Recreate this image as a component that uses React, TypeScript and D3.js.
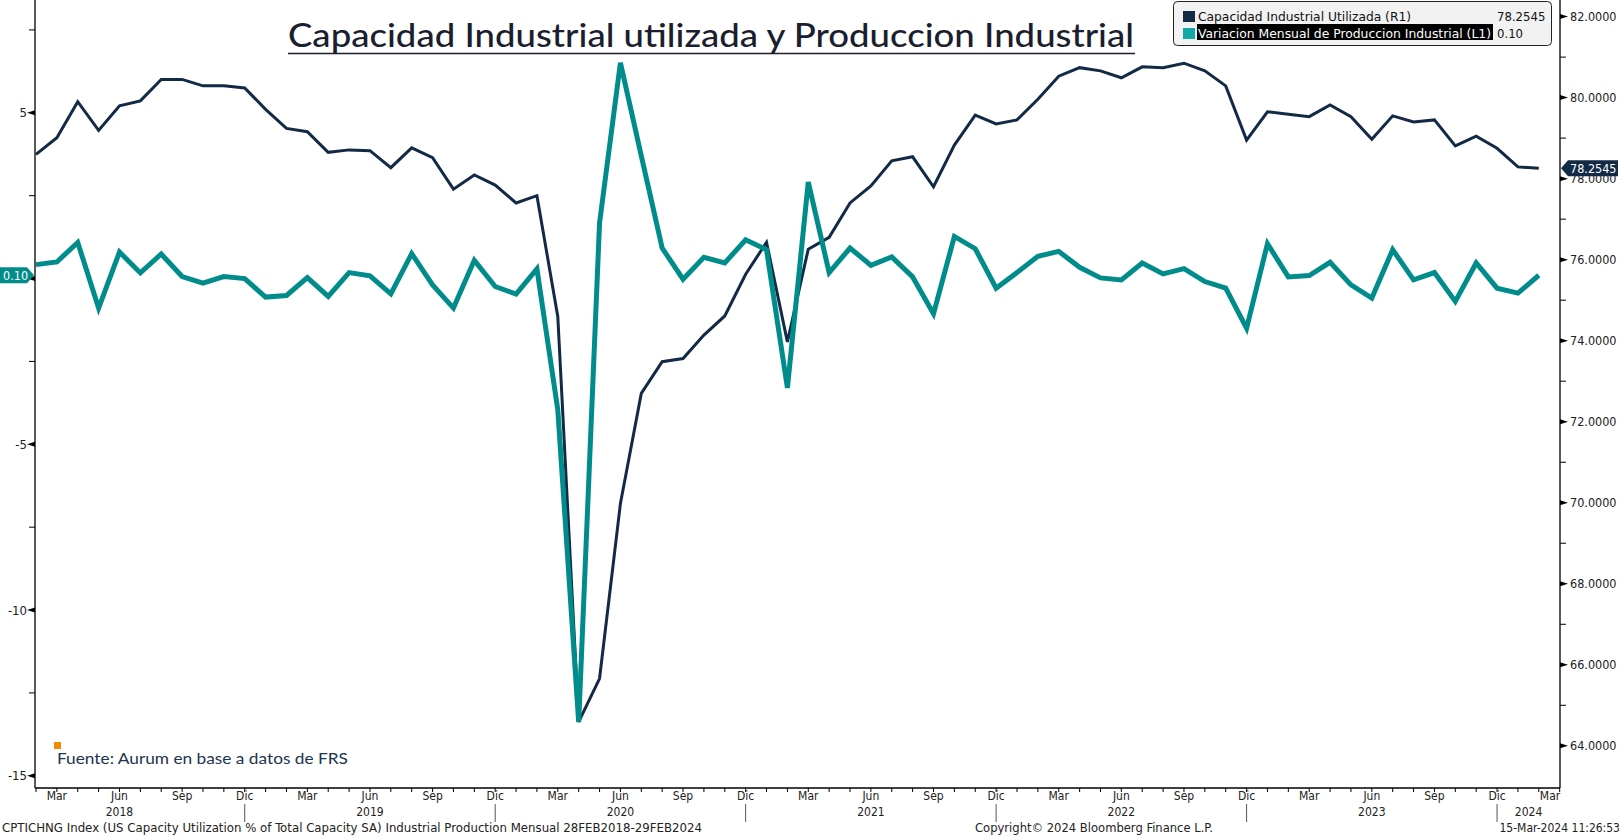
import React from "react";
import * as d3 from "d3";

// Monthly series, Feb 2018 .. Feb 2024
const startYear = 2018;
const startMonth = 1; // 0 = Jan, so Feb
const capacity = [
  78.6, 79.01, 79.9, 79.19, 79.8, 79.92, 80.45, 80.45, 80.29, 80.29,
  80.24, 79.71, 79.24, 79.16, 78.65, 78.71, 78.69, 78.27, 78.76, 78.52,
  77.74, 78.09, 77.84, 77.4, 77.58, 74.59, 64.59, 65.66, 69.98, 72.7,
  73.48, 73.56, 74.14, 74.61, 75.64, 76.43, 73.97, 76.26, 76.55, 77.4,
  77.82, 78.44, 78.54, 77.8, 78.83, 79.57, 79.35, 79.45, 79.96, 80.53,
  80.74, 80.66, 80.49, 80.76, 80.74, 80.85, 80.66, 80.29, 78.95, 79.65,
  79.59, 79.53, 79.82, 79.53, 78.97, 79.55, 79.4, 79.45, 78.81, 79.05,
  78.75, 78.29, 78.2545,
];
const ipMoM = [
  0.42, 0.5, 1.09, -0.89, 0.8, 0.17, 0.74, 0.06, -0.14, 0.06,
  0.0, -0.56, -0.51, 0.03, -0.54, 0.18, 0.08, -0.46, 0.75, -0.19,
  -0.89, 0.55, -0.24, -0.47, 0.29, -3.96, -13.38, 1.68, 6.51, 3.7,
  0.92, -0.02, 0.64, 0.47, 1.17, 0.87, -3.3, 2.91, 0.18, 0.92,
  0.4, 0.65, 0.05, -1.06, 1.27, 0.9, -0.29, 0.18, 0.67, 0.82,
  0.34, 0.02, -0.04, 0.47, 0.14, 0.3, -0.09, -0.29, -1.5, 1.05,
  0.05, 0.09, 0.49, -0.19, -0.59, 0.87, -0.04, 0.18, -0.69, 0.47,
  -0.29, -0.44, 0.1,
];
const monthNames = ["Ene", "Feb", "Mar", "Abr", "May", "Jun", "Jul", "Ago", "Sep", "Oct", "Nov", "Dic"];
const labeledMonths = [2, 5, 8, 11];
const leftMajor = [5, 0, -5, -10, -15];
const leftMinor = [7.5, 2.5, -2.5, -7.5, -12.5];
const rightMajor = [64, 66, 68, 70, 72, 74, 76, 78, 80, 82];
const rightMinor = [65, 67, 69, 71, 73, 75, 77, 79, 81];

const title = "Capacidad Industrial utilizada y Produccion Industrial";
const legendCap = "Capacidad Industrial Utilizada (R1)";
const legendIp = "Variacion Mensual de Produccion Industrial (L1)";
const sourceNote = "Fuente: Aurum en base a datos de FRS";
const footerLeft = "CPTICHNG Index (US Capacity Utilization % of Total Capacity SA) Industrial Production  Mensual 28FEB2018-29FEB2024";
const footerMid = "Copyright\u00A9 2024 Bloomberg Finance L.P.";
const footerRight = "15-Mar-2024 11:26:53";

const NAVY = "#132a46";
const TEAL = "#008c8a";
const BB = "'DejaVu Sans Condensed', 'Liberation Sans Narrow', 'DejaVu Sans', sans-serif";
const ROUND = "'Lato', 'Open Sans', sans-serif";

export default function App() {
  const W = 1622, H = 838;
  const axL = 35, axR = 1560, axB = 788;
  const n = capacity.length;
  const x = d3.scaleLinear().domain([0, n - 1]).range([36, 1538.8]);
  const yL = d3.scaleLinear().domain([-15, 5]).range([775.8, 112.8]);
  const yR = d3.scaleLinear().domain([64, 82]).range([745.8, 16.6]);

  const lineCap = d3.line<number>().x((_, i) => x(i)).y((d) => yR(d));
  const lineIp = d3.line<number>().x((_, i) => x(i)).y((d) => yL(d));

  const months = d3.range(-1, n + 1).map((i) => {
    const m = ((startMonth + i) % 12 + 12) % 12;
    const yr = startYear + Math.floor((startMonth + i) / 12);
    return { i, m, yr };
  });

  const years = d3.range(startYear, startYear + 7);
  const yearPos = (yr: number) => {
    const iJun = (yr - startYear) * 12 + 5 - startMonth;
    if (iJun <= n) return x(iJun);
    const iDecPrev = (yr - 1 - startYear) * 12 + 11 - startMonth;
    return (x(iDecPrev) + axR) / 2;
  };

  const lastCap = capacity[n - 1];
  const lastIp = ipMoM[n - 1];
  const capTagY = yR(lastCap);
  const ipTagY = yL(lastIp);

  return (
    <div>
      <style>{`body{margin:0;background:#fff}`}</style>
      <svg width={W} height={H} style={{ display: "block", background: "#fff" }}>
        {/* Title */}
        <text x={711} y={47} textAnchor="middle" fontFamily={ROUND} fontSize={33} fontWeight={500}
          fill="#1b1e2e" textLength={846} lengthAdjust="spacingAndGlyphs">{title}</text>
        <line x1={288} x2={1135} y1={53.5} y2={53.5} stroke="#1b1e2e" strokeWidth={1.6} />

        {/* Axes lines */}
        <line x1={axL} x2={axL} y1={0} y2={axB} stroke="#000" strokeWidth={1.3} />
        <line x1={axR} x2={axR} y1={0} y2={axB} stroke="#000" strokeWidth={1.3} />
        <line x1={axL} x2={axR} y1={axB} y2={axB} stroke="#000" strokeWidth={1.3} />

        {/* Left axis ticks */}
        {leftMajor.map((v) => (
          <g key={"lm" + v}>
            <path d={`M${axL},${yL(v) - 2.5} L${axL},${yL(v) + 2.5} L${axL - 8},${yL(v)} Z`} fill="#000" />
            {v !== 0 && (
              <text x={27} y={yL(v) + 4.5} textAnchor="end" fontFamily={BB} fontSize={13} fill="#222">
                {v < 0 ? "-" + Math.abs(v) : String(v)}
              </text>
            )}
          </g>
        ))}
        {leftMinor.map((v) => (
          <line key={"ln" + v} x1={axL - 6} x2={axL} y1={yL(v)} y2={yL(v)} stroke="#000" strokeWidth={1} />
        ))}

        {/* Right axis ticks */}
        {rightMajor.map((v) => (
          <g key={"rm" + v}>
            <path d={`M${axR},${yR(v) - 2.5} L${axR},${yR(v) + 2.5} L${axR + 8},${yR(v)} Z`} fill="#000" />
            <text x={1570} y={yR(v) + 4.5} fontFamily={BB} fontSize={12.5} fill="#222">
              {d3.format(".4f")(v)}
            </text>
          </g>
        ))}
        {rightMinor.map((v) => (
          <line key={"rn" + v} x1={axR} x2={axR + 6} y1={yR(v)} y2={yR(v)} stroke="#000" strokeWidth={1} />
        ))}

        {/* Bottom axis */}
        {months.filter((d) => x(d.i) >= axL - 0.5 && x(d.i) <= axR + 0.5).map((d) => (
          <line key={"bt" + d.i} x1={x(d.i)} x2={x(d.i)} y1={axB} y2={axB + 4} stroke="#000" strokeWidth={1} />
        ))}
        {months.filter((d) => labeledMonths.includes(d.m) && x(d.i) > axL + 5 && x(d.i) <= axR + 1).map((d) => {
          const cx = Math.min(x(d.i), axR - 10);
          return (
            <text key={"bl" + d.i} x={cx} y={800} textAnchor="middle" fontFamily={BB} fontSize={12} fill="#222">
              {monthNames[d.m]}
            </text>
          );
        })}
        {months.filter((d) => d.m === 11 && x(d.i) > axL && x(d.i) < axR).map((d) => (
          <line key={"ys" + d.i} x1={x(d.i)} x2={x(d.i)} y1={804} y2={822} stroke="#555" strokeWidth={1} />
        ))}
        {years.map((yr) => (
          <text key={"yr" + yr} x={yearPos(yr)} y={816} textAnchor="middle" fontFamily={BB} fontSize={12} fill="#222">
            {yr}
          </text>
        ))}

        {/* Series */}
        <path d={lineCap(capacity) || ""} fill="none" stroke={NAVY} strokeWidth={3} strokeLinejoin="miter" />
        <path d={lineIp(ipMoM) || ""} fill="none" stroke={TEAL} strokeWidth={5} strokeLinejoin="miter" />

        {/* Last-value tags */}
        <path d={`M${axR + 1},${capTagY} L${axR + 8},${capTagY - 8} L${1618},${capTagY - 8} L${1618},${capTagY + 8} L${axR + 8},${capTagY + 8} Z`} fill={NAVY} />
        <text x={1570} y={capTagY + 4.5} fontFamily={BB} fontSize={12.5} fill="#fff">{d3.format(".4f")(lastCap)}</text>
        <path d={`M0,${ipTagY - 8} L${axL - 8},${ipTagY - 8} L${axL - 1},${ipTagY} L${axL - 8},${ipTagY + 8} L0,${ipTagY + 8} Z`} fill={TEAL} />
        <text x={3} y={ipTagY + 4.5} fontFamily={BB} fontSize={12.5} fill="#fff">{d3.format(".2f")(lastIp)}</text>

        {/* Legend */}
        <rect x={1173.5} y={1.5} width={378} height={44} rx={4} fill="#f2f2f2" stroke="#222" strokeWidth={1} />
        <rect x={1183} y={11} width={12} height={11} fill={NAVY} />
        <rect x={1183} y={28} width={12} height={11} fill="#13a9a8" />
        <text x={1198} y={21} fontFamily={BB} fontSize={13} fill="#111" textLength={213} lengthAdjust="spacingAndGlyphs">{legendCap}</text>
        <rect x={1197} y={24} width={296} height={16} fill="#000" />
        <text x={1198} y={37.5} fontFamily={BB} fontSize={13} fill="#fff" textLength={293} lengthAdjust="spacingAndGlyphs">{legendIp}</text>
        <text x={1497} y={21} fontFamily={BB} fontSize={13} fill="#111">{d3.format(".4f")(lastCap)}</text>
        <text x={1497} y={37.5} fontFamily={BB} fontSize={13} fill="#111">{d3.format(".2f")(lastIp)}</text>

        {/* Source note */}
        <rect x={54} y={742} width={7} height={7} fill="#f28c00" />
        <text x={57} y={763.5} fontFamily={ROUND} fontSize={16} fill="#1d3350" textLength={291} lengthAdjust="spacingAndGlyphs">{sourceNote}</text>

        {/* Footer */}
        <text x={2} y={832} fontFamily={BB} fontSize={12} fill="#222" textLength={700} lengthAdjust="spacingAndGlyphs">{footerLeft}</text>
        <text x={975} y={832} fontFamily={BB} fontSize={12} fill="#222" textLength={238} lengthAdjust="spacingAndGlyphs">{footerMid}</text>
        <text x={1620} y={832} textAnchor="end" fontFamily={BB} fontSize={12} fill="#222">{footerRight}</text>
      </svg>
    </div>
  );
}
